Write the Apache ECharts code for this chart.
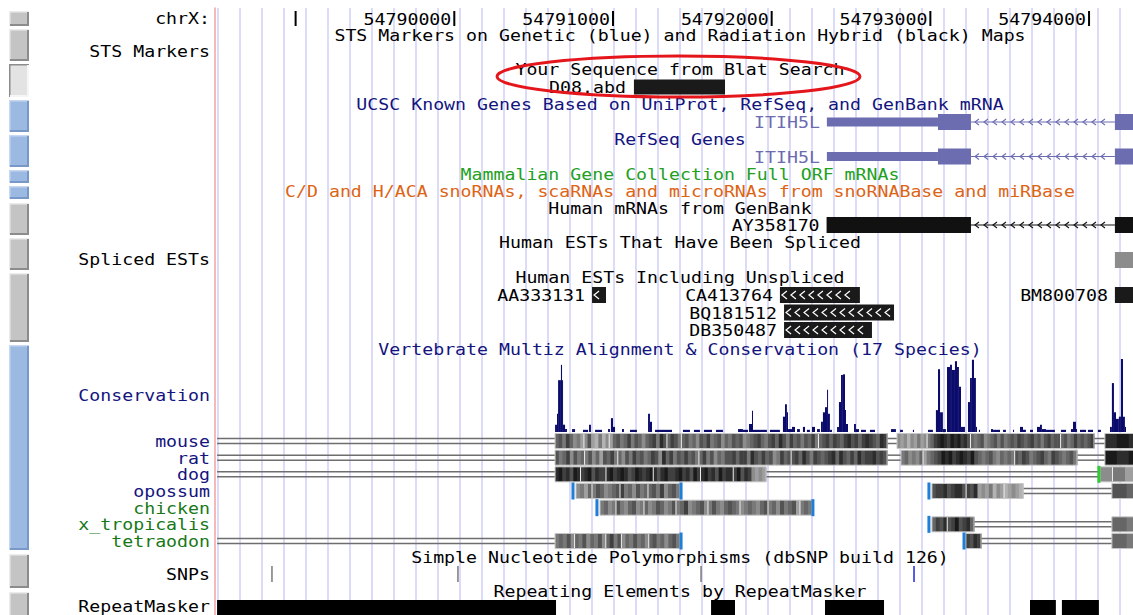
<!DOCTYPE html>
<html><head><meta charset="utf-8">
<script src="https://cdn.jsdelivr.net/npm/echarts@6/dist/echarts.min.js"></script>
<style>html,body{margin:0;padding:0;background:#fff;}#c{width:1133px;height:615px;}</style>
</head><body><div id="c"></div>
<script>
// ================= DATA (genomic coordinates on chrX, bp) =================
const viewStart = 54788492;
const viewEnd = 54794277;

const rulerTicks = [54789000, 54790000, 54791000, 54792000, 54793000, 54794000];
const rulerLabels = ['', '54790000', '54791000', '54792000', '54793000', '54794000'];

const trackTitles = [
  'STS Markers on Genetic (blue) and Radiation Hybrid (black) Maps',
  'Your Sequence from Blat Search',
  'UCSC Known Genes Based on UniProt, RefSeq, and GenBank mRNA',
  'RefSeq Genes',
  'Mammalian Gene Collection Full ORF mRNAs',
  'C/D and H/ACA snoRNAs, scaRNAs and microRNAs from snoRNABase and miRBase',
  'Human mRNAs from GenBank',
  'Human ESTs That Have Been Spliced',
  'Human ESTs Including Unspliced',
  'Vertebrate Multiz Alignment & Conservation (17 Species)',
  'Simple Nucleotide Polymorphisms (dbSNP build 126)',
  'Repeating Elements by RepeatMasker'
];
const sideLabels = ['chrX:', 'STS Markers', 'Spliced ESTs', 'Conservation', 'SNPs', 'RepeatMasker'];
const speciesNames = ['mouse', 'rat', 'dog', 'opossum', 'chicken', 'x_tropicalis', 'tetraodon'];

const blatNames = ['D08.abd'];
const blatStart = [54791132];
const blatEnd = [54791706];

// gene models: [start, end, part]
const knownGeneName = 'ITIH5L';
const knownGeneParts = [[54792348, 54793048, 'utr'], [54793048, 54793256, 'cds'], [54793256, 54794163, 'intron'], [54794163, 54794700, 'cds']];
const refGeneName = 'ITIH5L';
const refGeneParts = [[54792348, 54793048, 'utr'], [54793048, 54793256, 'cds'], [54793256, 54794163, 'intron'], [54794163, 54794700, 'cds']];
const mrnaName = 'AY358170';
const mrnaParts = [[54792346, 54793256, 'cds'], [54793256, 54794163, 'intron'], [54794163, 54794700, 'cds']];

const splicedEstStart = [54794163];
const splicedEstEnd = [54794700];

const estNames = ['AA333131', 'CA413764', 'BM800708', 'BQ181512', 'DB350487'];
const estStart = [54790868, 54792052, 54794163, 54792078, 54792078];
const estEnd = [54790956, 54792556, 54794700, 54792771, 54792632];
const estLine = [0, 0, 0, 1, 2];

// conservation: [start, end, score 0..1]
const conservation = [
  [54790635,54790647,0.10],[54790647,54790654,0.25],[54790654,54790672,0.71],[54790672,54790679,0.92],
  [54790679,54790685,0.71],[54790685,54790698,0.10],[54790698,54790710,0.04],[54790742,54790761,0.04],
  [54790811,54790843,0.03],[54790849,54790861,0.10],[54790887,54790931,0.03],[54790969,54790981,0.04],
  [54790987,54791000,0.19],[54791000,54791013,0.07],[54791057,54791069,0.04],[54791107,54791151,0.03],
  [54791221,54791233,0.25],[54791233,54791246,0.14],[54791265,54791372,0.03],[54791441,54791485,0.03],
  [54791510,54791548,0.03],[54791573,54791624,0.03],[54791649,54791693,0.03],[54791788,54791819,0.04],
  [54791819,54791851,0.03],[54791857,54791876,0.11],[54791876,54791882,0.29],[54791882,54791970,0.03],
  [54791989,54792052,0.03],[54792071,54792084,0.21],[54792084,54792096,0.38],[54792096,54792103,0.27],
  [54792103,54792128,0.04],[54792128,54792147,0.07],[54792160,54792178,0.04],[54792197,54792210,0.07],
  [54792222,54792241,0.03],[54792254,54792273,0.07],[54792286,54792304,0.04],[54792311,54792323,0.14],
  [54792323,54792336,0.27],[54792336,54792349,0.34],[54792349,54792355,0.58],[54792355,54792367,0.25],
  [54792367,54792380,0.03],[54792412,54792424,0.07],[54792424,54792437,0.41],[54792437,54792449,0.78],
  [54792449,54792462,0.79],[54792462,54792468,0.30],[54792468,54792481,0.11],[54792519,54792531,0.11],
  [54792531,54792550,0.04],[54792563,54792594,0.03],[54792619,54792651,0.03],[54792752,54792783,0.04],
  [54792809,54792827,0.03],[54792890,54792897,0.03],[54792985,54793016,0.03],[54793035,54793048,0.30],
  [54793048,54793061,0.86],[54793061,54793079,0.27],[54793079,54793098,0.04],[54793105,54793124,0.89],
  [54793124,54793136,0.92],[54793136,54793155,0.85],[54793155,54793168,0.97],[54793168,54793180,0.89],
  [54793180,54793193,0.62],[54793193,54793218,0.07],[54793237,54793250,0.41],[54793250,54793262,0.74],
  [54793262,54793275,0.99],[54793275,54793287,0.74],[54793287,54793294,0.07],[54793306,54793313,0.03],
  [54793382,54793395,0.04],[54793395,54793439,0.03],[54793458,54793476,0.03],[54793521,54793527,0.03],
  [54793565,54793584,0.07],[54793584,54793602,0.03],[54793628,54793647,0.03],[54793672,54793691,0.07],
  [54793691,54793703,0.10],[54793703,54793729,0.04],[54793729,54793785,0.03],[54793823,54793855,0.03],
  [54793886,54793899,0.04],[54793899,54793918,0.14],[54793918,54793924,0.04],[54793943,54793981,0.03],
  [54793993,54794025,0.03],[54794056,54794075,0.03],[54794132,54794144,0.07],[54794144,54794157,0.67],
  [54794157,54794170,0.27],[54794170,54794188,0.18],[54794188,54794201,0.21],[54794201,54794214,1.00],
  [54794214,54794226,0.21],[54794226,54794233,0.07]
];

// multiz alignment per species: aligned blocks, unaligned links (double line), breaks
const mouseBlocks = [[54790635, 54792727], [54792790, 54794031], [54794100, 54794700]];
const mouseLinks = [[54788505, 54790635], [54792727, 54792790], [54794031, 54794100]];
const mouseBreaks = [];
const mouseShade = ['43524657w6378586w7435425346432513w4235w43546342543645343654324532413524353425w4324234213242123412', '676867576w5421012010213w454365435354342343243532433w4354243432', '10121021'];

const ratBlocks = [[54790635, 54792727], [54792815, 54793924], [54794100, 54794700]];
const ratLinks = [[54788505, 54790635], [54792727, 54792815], [54793924, 54794100]];
const ratBreaks = [];
const ratShade = ['35426354w536473425w4635243542361425342435w4253645332422513424365243w32413523432141342413221323', '546564w7543201021012034543564545w34235432452345435', '01012101'];

const dogBlocks = [[54790635, 54791964], [54794069, 54794700]];
const dogLinks = [[54788505, 54790635], [54791964, 54794062]];
const dogBreaks = [[54794062, 'green']];
const dogShade = ['1021301w2103122w1021013201210w1310221021302w102130211w203126767', '6w5746354'];

const opossumBlocks = [[54790767, 54791422], [54793010, 54793584], [54794144, 54794700]];
const opossumLinks = [[54793584, 54794144]];
const opossumBreaks = [[54790748, 'blue'], [54791429, 'blue'], [54792991, 'blue']];
const opossumShade = ['6574w5346543w2546354w43526435', '322132113w2317675867w87678', '342314'];

const chickenBlocks = [[54790918, 54792254]];
const chickenLinks = [];
const chickenBreaks = [[54790899, 'blue'], [54792260, 'blue']];
const chickenShade = ['5465w3564365w46534653w54265436w53564345w6545643w54635437w545'];

const xtropBlocks = [[54793010, 54793275], [54794144, 54794700]];
const xtropLinks = [[54793275, 54794144]];
const xtropBreaks = [[54792991, 'blue']];
const xtropShade = ['4231w3203214', '453526'];

const tetraodonBlocks = [[54790635, 54791422], [54793224, 54793319], [54794144, 54794700]];
const tetraodonLinks = [[54788505, 54790635], [54793319, 54794144]];
const tetraodonBreaks = [[54791429, 'blue'], [54793212, 'blue']];
const tetraodonShade = ['54536w45364536w4253w6453546w43546435', '2312', '453645'];

const snpPos = [54788851, 54790023, 54791555, 54792897];
const snpFunc = ['unknown', 'unknown', 'unknown', 'coding'];

const rmskStart = [54788505, 54791618, 54792336, 54793628, 54793829];
const rmskEnd = [54790641, 54791769, 54792708, 54793791, 54794062];

// ================= LAYOUT / STYLE =================
const FONT = "16px 'DejaVu Sans Mono'";
const TX = 1.14;
const C_BLACK = '#000000', C_NAVY = '#14147e', C_GENE = '#6c6cb0', C_MGC = '#22a022',
      C_SNO = '#dd6414', C_SPG = '#187818', C_CONS = '#0b0b6c';
const titleY = [35, 69.5, 104, 139, 174, 191, 208, 242, 277, 349, 557, 591.5];
const titleColor = [C_BLACK, C_BLACK, C_NAVY, C_NAVY, C_MGC, C_SNO, C_BLACK, C_BLACK, C_BLACK, C_NAVY, C_BLACK, C_BLACK];
const sideY = [18.5, 51, 259, 395, 574, 606];
const sideColor = [C_BLACK, C_BLACK, C_BLACK, C_NAVY, C_BLACK, C_BLACK];
const speciesColor = [C_NAVY, C_NAVY, C_NAVY, C_NAVY, C_SPG, C_SPG, C_SPG];
const ROW = {ruler: 19, blat: 87, known: 122, refseq: 156.5, mrna: 225, spliced: 260, snp: 574, rmsk: 608};
const estRows = [295, 312.5, 330];
const speciesRow0 = 441, speciesStep = 16.67;
const TITLE_X = 680, LABEL_X = 210;

function tx(x, y, s, fill, align) {
  return {type: 'text', x: x, y: y, scaleX: TX, silent: true,
    style: {text: s, fill: fill, font: FONT, align: align, verticalAlign: 'middle'}};
}
function gtx(x, y, s, fill, align) {
  return {type: 'text', x: x, y: y, scaleX: TX, silent: true, z: 5,
    style: {text: s, fill: fill, font: FONT, align: align, verticalAlign: 'middle', textAlign: align, textVerticalAlign: 'middle'}};
}
function chevrons(ch, x0, x1, cy, color, w, h, lw) {
  for (let x = x0; x <= x1; x += 9) {
    ch.push({type: 'polyline', shape: {points: [[x + w / 2, cy - h / 2], [x - w / 2, cy], [x + w / 2, cy + h / 2]]},
      style: {stroke: color, fill: 'none', lineWidth: lw}});
  }
}

function geneSeries(parts, rowY, color, labelColor, name) {
  return {
    type: 'custom', coordinateSystem: 'cartesian2d', xAxisIndex: 0, yAxisIndex: 0, silent: true,
    data: parts.map(p => [p[0], p[1]]),
    renderItem: function (params, api) {
      const kind = parts[params.dataIndex][2];
      const a = api.coord([api.value(0), rowY]);
      const b = api.coord([api.value(1), rowY]);
      const cy = a[1];
      const ch = [];
      if (kind === 'intron') {
        ch.push({type: 'line', shape: {x1: a[0], y1: cy, x2: b[0], y2: cy}, style: {stroke: color, lineWidth: 1.2}});
        chevrons(ch, a[0] + 6, b[0] - 5, cy, color, 4, 6, 1.1);
      } else {
        const h = kind === 'utr' ? 9 : 16;
        ch.push({type: 'rect', shape: {x: a[0], y: cy - h / 2, width: b[0] - a[0], height: h}, style: {fill: color}});
      }
      if (params.dataIndex === 0 && name) ch.push(tx(a[0] - 7, cy + 0.5, name, labelColor, 'right'));
      return {type: 'group', children: ch};
    }
  };
}

// alignment tables built from the per-species arrays
const aliBlocks = [mouseBlocks, ratBlocks, dogBlocks, opossumBlocks, chickenBlocks, xtropBlocks, tetraodonBlocks];
const aliShades = [mouseShade, ratShade, dogShade, opossumShade, chickenShade, xtropShade, tetraodonShade];
const aliLinks = [mouseLinks, ratLinks, dogLinks, opossumLinks, chickenLinks, xtropLinks, tetraodonLinks];
const aliBreaks = [mouseBreaks, ratBreaks, dogBreaks, opossumBreaks, chickenBreaks, xtropBreaks, tetraodonBreaks];
const blockData = [], linkData = [], breakData = [], breakKind = [];
aliBlocks.forEach((bl, r) => bl.forEach((b, j) => blockData.push([b[0], b[1], r, j])));
aliLinks.forEach((ls, r) => ls.forEach(l => linkData.push([l[0], l[1], r])));
aliBreaks.forEach((bs, r) => bs.forEach(b => { breakData.push([b[0], r]); breakKind.push(b[1]); }));
const rowOf = r => speciesRow0 + r * speciesStep;

function grayOf(d) { const g = Math.round(26 + d * 19); return 'rgb(' + g + ',' + g + ',' + g + ')'; }

// ================= OPTION =================
const series = [];

// ruler
series.push({
  type: 'custom', coordinateSystem: 'cartesian2d', xAxisIndex: 0, yAxisIndex: 0, silent: true,
  data: rulerTicks.map(t => [t, ROW.ruler]),
  renderItem: function (params, api) {
    const p = api.coord([api.value(0), ROW.ruler]);
    const top = api.coord([api.value(0), 11])[1], bot = api.coord([api.value(0), 26])[1];
    const ch = [{type: 'rect', shape: {x: p[0] - 1, y: top, width: 2, height: bot - top}, style: {fill: '#000'}}];
    const lab = rulerLabels[params.dataIndex];
    if (lab) ch.push(tx(p[0] - 3, p[1], lab, C_BLACK, 'right'));
    return {type: 'group', children: ch};
  }
});

// blat hit
series.push({
  type: 'custom', coordinateSystem: 'cartesian2d', xAxisIndex: 0, yAxisIndex: 0, silent: true,
  data: blatStart.map((s, i) => [s, blatEnd[i]]),
  renderItem: function (params, api) {
    const a = api.coord([api.value(0), ROW.blat]), b = api.coord([api.value(1), ROW.blat]);
    return {type: 'group', children: [
      {type: 'rect', shape: {x: a[0], y: a[1] - 7.5, width: b[0] - a[0], height: 15}, style: {fill: '#1a1a1a'}},
      tx(a[0] - 8, a[1], blatNames[params.dataIndex], C_BLACK, 'right')
    ]};
  }
});

series.push(geneSeries(knownGeneParts, ROW.known, C_GENE, C_GENE, knownGeneName));
series.push(geneSeries(refGeneParts, ROW.refseq, C_GENE, C_GENE, refGeneName));
series.push(geneSeries(mrnaParts, ROW.mrna, '#111111', C_BLACK, mrnaName));

// spliced EST
series.push({
  type: 'custom', coordinateSystem: 'cartesian2d', xAxisIndex: 0, yAxisIndex: 0, silent: true,
  data: splicedEstStart.map((s, i) => [s, splicedEstEnd[i]]),
  renderItem: function (params, api) {
    const a = api.coord([api.value(0), ROW.spliced]), b = api.coord([api.value(1), ROW.spliced]);
    return {type: 'rect', shape: {x: a[0], y: a[1] - 8, width: b[0] - a[0], height: 16}, style: {fill: '#8c8c8c'}};
  }
});

// ESTs
series.push({
  type: 'custom', coordinateSystem: 'cartesian2d', xAxisIndex: 0, yAxisIndex: 0, silent: true,
  data: estStart.map((s, i) => [s, estEnd[i], estLine[i]]),
  renderItem: function (params, api) {
    const y = estRows[api.value(2)];
    const a = api.coord([api.value(0), y]), b = api.coord([api.value(1), y]);
    const ch = [{type: 'rect', shape: {x: a[0], y: a[1] - 8, width: b[0] - a[0], height: 16}, style: {fill: '#1a1a1a'}}];
    if (api.value(1) <= viewEnd) chevrons(ch, a[0] + 4.5, b[0] - 4, a[1], '#ffffff', 5, 8, 1.2);
    ch.push(tx(a[0] - 7, a[1] + 0.5, estNames[params.dataIndex], C_BLACK, 'right'));
    return {type: 'group', children: ch};
  }
});

// conservation histogram
series.push({
  type: 'custom', coordinateSystem: 'cartesian2d', xAxisIndex: 1, yAxisIndex: 1, silent: true,
  data: conservation,
  renderItem: function (params, api) {
    const a = api.coord([api.value(0), api.value(2)]), b = api.coord([api.value(1), 0]);
    return {type: 'rect', shape: {x: a[0], y: a[1], width: Math.max(b[0] - a[0], 1), height: b[1] - a[1]}, style: {fill: C_CONS}};
  }
});

// alignment links (double lines)
series.push({
  type: 'custom', coordinateSystem: 'cartesian2d', xAxisIndex: 0, yAxisIndex: 0, silent: true,
  data: linkData,
  renderItem: function (params, api) {
    const y = rowOf(api.value(2));
    const a = api.coord([api.value(0), y]), b = api.coord([api.value(1), y]);
    return {type: 'group', children: [
      {type: 'line', shape: {x1: a[0], y1: a[1] - 2.5, x2: b[0], y2: a[1] - 2.5}, style: {stroke: '#6e6e6e', lineWidth: 1.5}},
      {type: 'line', shape: {x1: a[0], y1: a[1] + 2.5, x2: b[0], y2: a[1] + 2.5}, style: {stroke: '#6e6e6e', lineWidth: 1.5}}
    ]};
  }
});

// alignment blocks (grayscale)
series.push({
  type: 'custom', coordinateSystem: 'cartesian2d', xAxisIndex: 0, yAxisIndex: 0, silent: true,
  data: blockData,
  renderItem: function (params, api) {
    const r = api.value(2), j = api.value(3);
    const y = rowOf(r);
    const a = api.coord([api.value(0), y]), b = api.coord([api.value(1), y]);
    const shade = aliShades[r][j];
    const digits = shade.replace(/w/g, '');
    const w = b[0] - a[0], sw = w / digits.length;
    const top = a[1] - 7.5, h = 15;
    const ch = [];
    let k = 0;
    const whites = [];
    for (const c of shade) {
      if (c === 'w') { whites.push(a[0] + k * sw); continue; }
      ch.push({type: 'rect', shape: {x: a[0] + k * sw, y: top, width: sw + 0.6, height: h}, style: {fill: grayOf(+c)}});
      k++;
    }
    whites.forEach(x => ch.push({type: 'rect', shape: {x: x - 0.5, y: top, width: 1, height: h}, style: {fill: '#eeeeee'}}));
    ch.push({type: 'rect', shape: {x: a[0], y: top, width: w, height: h}, style: {fill: 'none', stroke: '#c6c6c6', lineWidth: 1}});
    return {type: 'group', children: ch};
  }
});

// alignment breaks
series.push({
  type: 'custom', coordinateSystem: 'cartesian2d', xAxisIndex: 0, yAxisIndex: 0, silent: true,
  data: breakData,
  renderItem: function (params, api) {
    const y = rowOf(api.value(1));
    const p = api.coord([api.value(0), y]);
    const col = breakKind[params.dataIndex] === 'green' ? '#2fcc2f' : '#1f7fd6';
    return {type: 'rect', shape: {x: p[0] - 1.5, y: p[1] - 8.5, width: 3, height: 17}, style: {fill: col}};
  }
});

// SNPs
series.push({
  type: 'custom', coordinateSystem: 'cartesian2d', xAxisIndex: 0, yAxisIndex: 0, silent: true,
  data: snpPos.map(p => [p, ROW.snp]),
  renderItem: function (params, api) {
    const p = api.coord([api.value(0), ROW.snp]);
    const col = snpFunc[params.dataIndex] === 'coding' ? '#2424e0' : '#7a7a7a';
    return {type: 'rect', shape: {x: p[0] - 0.75, y: p[1] - 8, width: 1.5, height: 16}, style: {fill: col}};
  }
});

// RepeatMasker
series.push({
  type: 'custom', coordinateSystem: 'cartesian2d', xAxisIndex: 0, yAxisIndex: 0, silent: true,
  data: rmskStart.map((s, i) => [s, rmskEnd[i]]),
  renderItem: function (params, api) {
    const a = api.coord([api.value(0), ROW.rmsk]), b = api.coord([api.value(1), ROW.rmsk]);
    return {type: 'rect', shape: {x: a[0], y: a[1] - 8, width: b[0] - a[0], height: 18}, style: {fill: '#000'}};
  }
});

// ---- page decorations: side buttons, titles, labels, ellipse ----
const buttons = [[11, 26, 'gray'], [29, 61, 'gray'], [64, 97, 'light'], [100, 132, 'blue'], [135, 167, 'blue'],
  [170, 183, 'blue'], [186, 199, 'blue'], [203, 235, 'gray'], [238, 270, 'gray'], [273, 342, 'gray'],
  [345, 550, 'blue'], [554, 588, 'gray'], [592, 625, 'gray']];
const pal = {gray: ['#c4c4c4', '#ececec', '#8c8c8c'], blue: ['#9cb9e2', '#c6d8f1', '#7898c8'], light: ['#e3e3e3', '#8c8c8c', '#f6f6f6']};
const graphics = [];
buttons.forEach(bt => {
  const x1 = 9, x2 = 29, y1 = bt[0], y2 = bt[1], p = pal[bt[2]];
  graphics.push({type: 'group', silent: true, children: [
    {type: 'rect', shape: {x: x1, y: y1, width: x2 - x1, height: y2 - y1}, style: {fill: p[0]}},
    {type: 'polyline', shape: {points: [[x1 + 0.75, y2], [x1 + 0.75, y1 + 0.75], [x2, y1 + 0.75]]}, style: {stroke: p[1], fill: 'none', lineWidth: 1.5}},
    {type: 'polyline', shape: {points: [[x1 + 1, y2 - 1], [x2 - 1, y2 - 1], [x2 - 1, y1 + 1]]}, style: {stroke: p[2], fill: 'none', lineWidth: 2}}
  ]});
});
trackTitles.forEach((t, i) => graphics.push(gtx(TITLE_X, titleY[i], t, titleColor[i], 'center')));
sideLabels.forEach((t, i) => graphics.push(gtx(LABEL_X, sideY[i], t, sideColor[i], 'right')));
speciesNames.forEach((t, i) => graphics.push(gtx(LABEL_X, rowOf(i) + 0.5, t, speciesColor[i], 'right')));
graphics.push({type: 'ellipse', silent: true, z: 50, shape: {cx: 678.5, cy: 76.5, rx: 181.5, ry: 20.5},
  style: {fill: 'none', stroke: '#e5161b', lineWidth: 3}});

const option = {
  animation: false,
  backgroundColor: '#ffffff',
  grid: [
    {left: 215, right: 0, top: 8, bottom: 0},
    {left: 215, right: 0, top: 359, height: 73},
    {left: 217.3, width: 902, top: 8, bottom: 0}
  ],
  xAxis: [
    {gridIndex: 0, type: 'value', min: viewStart, max: viewEnd, show: false},
    {gridIndex: 1, type: 'value', min: viewStart, max: viewEnd, show: false},
    {gridIndex: 2, type: 'value', min: 0, max: 41, interval: 1, axisLine: {show: false}, axisTick: {show: false},
      axisLabel: {show: false}, splitLine: {show: true, lineStyle: {color: '#d0d0f8', width: 1.5}}}
  ],
  yAxis: [
    {gridIndex: 0, type: 'value', min: 8, max: 615, inverse: true,
      axisLine: {show: true, lineStyle: {color: '#f2a2a2', width: 1.5}}, axisTick: {show: false},
      axisLabel: {show: false}, splitLine: {show: false}},
    {gridIndex: 1, type: 'value', min: 0, max: 1, show: false},
    {gridIndex: 2, type: 'value', min: 0, max: 1, show: false}
  ],
  graphic: graphics,
  series: series
};

const chart = echarts.init(document.getElementById('c'), null, {renderer: 'svg', width: 1133, height: 615});
chart.setOption(option);
</script>
</body></html>
